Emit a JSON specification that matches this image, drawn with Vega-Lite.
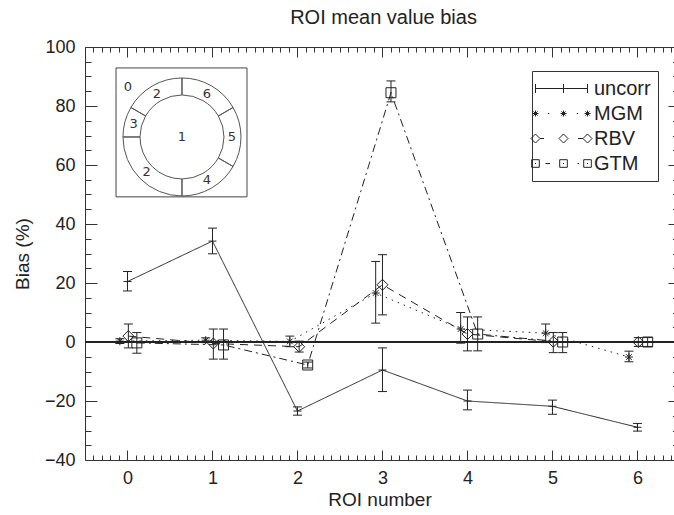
{
  "$schema": "https://vega.github.io/schema/vega-lite/v6.json",
  "width": 589,
  "height": 413,
  "autosize": {"type": "none"},
  "padding": {"left": 85, "top": 47, "right": 0, "bottom": 55},
  "background": "white",
  "title": {"text": "ROI mean value bias", "font": "Liberation Sans", "fontSize": 20, "fontWeight": "normal", "color": "#222", "anchor": "middle", "baseline": "alphabetic", "offset": 20, "dx": 4, "dy": 26},
  "data": {"values": [
    {"series": "uncorr", "roi": 0, "x": 0, "bias": 20.5, "lo": 17.3, "hi": 23.9},
    {"series": "uncorr", "roi": 1, "x": 1, "bias": 34.2, "lo": 29.9, "hi": 38.6},
    {"series": "uncorr", "roi": 2, "x": 2, "bias": -23.4, "lo": -24.8, "hi": -22.0},
    {"series": "uncorr", "roi": 3, "x": 3, "bias": -9.5, "lo": -16.8, "hi": -2.0},
    {"series": "uncorr", "roi": 4, "x": 4, "bias": -20.0, "lo": -23.0, "hi": -16.3},
    {"series": "uncorr", "roi": 5, "x": 5, "bias": -21.8, "lo": -24.5, "hi": -19.7},
    {"series": "uncorr", "roi": 6, "x": 6, "bias": -28.9, "lo": -30.2, "hi": -27.6},
    {"series": "MGM", "roi": 0, "x": -0.09, "bias": 0.3, "lo": -0.5, "hi": 1.1},
    {"series": "MGM", "roi": 1, "x": 0.92, "bias": 0.6, "lo": -0.2, "hi": 1.4},
    {"series": "MGM", "roi": 2, "x": 1.91, "bias": 0.2, "lo": -1.6, "hi": 2.0},
    {"series": "MGM", "roi": 3, "x": 2.92, "bias": 16.6, "lo": 6.4, "hi": 27.3},
    {"series": "MGM", "roi": 4, "x": 3.92, "bias": 4.4, "lo": -0.4, "hi": 10.0},
    {"series": "MGM", "roi": 5, "x": 4.92, "bias": 3.0, "lo": -0.2, "hi": 6.1},
    {"series": "MGM", "roi": 6, "x": 5.9, "bias": -5.1, "lo": -6.7, "hi": -3.1},
    {"series": "RBV", "roi": 0, "x": 0.01, "bias": 2.0, "lo": -2.0, "hi": 6.1},
    {"series": "RBV", "roi": 1, "x": 1.01, "bias": -0.5, "lo": -5.8, "hi": 4.4},
    {"series": "RBV", "roi": 2, "x": 2.02, "bias": -1.6, "lo": -3.4, "hi": 0.3},
    {"series": "RBV", "roi": 3, "x": 3.0, "bias": 19.4, "lo": 9.2, "hi": 29.6},
    {"series": "RBV", "roi": 4, "x": 4.0, "bias": 2.7, "lo": -3.0, "hi": 8.5},
    {"series": "RBV", "roi": 5, "x": 5.01, "bias": 0.1, "lo": -3.6, "hi": 3.2},
    {"series": "RBV", "roi": 6, "x": 6.01, "bias": 0.0, "lo": -1.5, "hi": 1.5},
    {"series": "GTM", "roi": 0, "x": 0.11, "bias": -0.3, "lo": -3.8, "hi": 3.2},
    {"series": "GTM", "roi": 1, "x": 1.13, "bias": -1.0, "lo": -5.8, "hi": 4.4},
    {"series": "GTM", "roi": 2, "x": 2.12, "bias": -7.8, "lo": -8.8, "hi": -6.8},
    {"series": "GTM", "roi": 3, "x": 3.1, "bias": 84.5, "lo": 81.4, "hi": 88.5},
    {"series": "GTM", "roi": 4, "x": 4.12, "bias": 2.7, "lo": -3.0, "hi": 8.5},
    {"series": "GTM", "roi": 5, "x": 5.12, "bias": 0.0, "lo": -3.6, "hi": 3.2},
    {"series": "GTM", "roi": 6, "x": 6.12, "bias": 0.0, "lo": -1.5, "hi": 1.5}
  ]},
  "layer": [
    {
      "mark": {"type": "rule", "color": "#222", "strokeWidth": 1.2},
      "encoding": {
        "y": {"datum": 0, "type": "quantitative", "scale": {"domain": [-40, 100], "nice": false, "zero": false}, "axis": null}
      }
    },
    {
      "data": {"values": [{}]},
      "mark": {"type": "rect", "fill": "white", "stroke": "#444", "strokeWidth": 1},
      "encoding": {
        "x": {"datum": -0.135, "type": "quantitative", "scale": {"domain": [-0.5, 6.43], "nice": false, "zero": false}, "axis": null},
        "x2": {"datum": 1.406},
        "y": {"datum": 92.9, "type": "quantitative", "scale": {"domain": [-40, 100], "nice": false, "zero": false}, "axis": null},
        "y2": {"datum": 49.2}
      }
    },
    {
      "data": {"values": [
        {"seg": "6", "a0": 0, "a1": 60, "am": 30},
        {"seg": "5", "a0": 60, "a1": 120, "am": 90},
        {"seg": "4", "a0": 120, "a1": 180, "am": 150},
        {"seg": "2", "a0": 180, "a1": 270, "am": 225},
        {"seg": "3", "a0": 270, "a1": 300, "am": 285},
        {"seg": "2", "a0": 300, "a1": 360, "am": 330}
      ]},
      "layer": [
        {
          "mark": {"type": "arc", "radius": 59, "radius2": 42, "fill": "white", "fillOpacity": 0, "stroke": "#555", "strokeWidth": 1},
          "encoding": {
            "x": {"datum": 0.641, "type": "quantitative", "scale": {"domain": [-0.5, 6.43], "nice": false, "zero": false}, "axis": null},
            "y": {"datum": 69.5, "type": "quantitative", "scale": {"domain": [-40, 100], "nice": false, "zero": false}, "axis": null},
            "theta": {"field": "a0", "type": "quantitative", "stack": null, "scale": {"domain": [0, 360], "range": [0, 6.283185307]}},
            "theta2": {"field": "a1"}
          }
        },
        {
          "mark": {"type": "text", "radius": 50, "font": "DejaVu Sans", "fontSize": 13, "color": "#333", "align": "center", "baseline": "middle"},
          "encoding": {
            "x": {"datum": 0.641, "type": "quantitative", "scale": {"domain": [-0.5, 6.43], "nice": false, "zero": false}, "axis": null},
            "y": {"datum": 69.5, "type": "quantitative", "scale": {"domain": [-40, 100], "nice": false, "zero": false}, "axis": null},
            "theta": {"field": "am", "type": "quantitative", "stack": null, "scale": {"domain": [0, 360], "range": [0, 6.283185307]}},
            "text": {"field": "seg"}
          }
        }
      ]
    },
    {
      "data": {"values": [{"t": "1"}]},
      "mark": {"type": "text", "font": "DejaVu Sans", "fontSize": 13, "color": "#333", "align": "center", "baseline": "middle"},
      "encoding": {
        "x": {"datum": 0.641, "type": "quantitative", "scale": {"domain": [-0.5, 6.43], "nice": false, "zero": false}, "axis": null},
        "y": {"datum": 69.5, "type": "quantitative", "scale": {"domain": [-40, 100], "nice": false, "zero": false}, "axis": null},
        "text": {"field": "t"}
      }
    },
    {
      "data": {"values": [{"t": "0"}]},
      "mark": {"type": "text", "font": "DejaVu Sans", "fontSize": 13, "color": "#333", "align": "center", "baseline": "middle"},
      "encoding": {
        "x": {"datum": 0.006, "type": "quantitative", "scale": {"domain": [-0.5, 6.43], "nice": false, "zero": false}, "axis": null},
        "y": {"datum": 86.4, "type": "quantitative", "scale": {"domain": [-40, 100], "nice": false, "zero": false}, "axis": null},
        "text": {"field": "t"}
      }
    },
    {
      "mark": {"type": "rule", "color": "#222", "strokeWidth": 1},
      "encoding": {
        "x": {"field": "x", "type": "quantitative", "scale": {"domain": [-0.5, 6.43], "nice": false, "zero": false},
              "axis": {"orient": "bottom", "values": [0, 1, 2, 3, 4, 5, 6], "format": "d", "ticks": false, "labelPadding": 9, "title": "ROI number", "titlePadding": 3, "domain": true}},
        "y": {"field": "lo", "type": "quantitative", "scale": {"domain": [-40, 100], "nice": false, "zero": false},
              "axis": {"orient": "left", "values": [-40, -20, 0, 20, 40, 60, 80, 100], "ticks": false, "labelPadding": 10, "title": "Bias (%)", "titlePadding": 12, "domain": true}},
        "y2": {"field": "hi"}
      }
    },
    {
      "mark": {"type": "tick", "orient": "horizontal", "color": "#222", "size": 9, "thickness": 1, "opacity": 1},
      "encoding": {
        "x": {"field": "x", "type": "quantitative", "scale": {"domain": [-0.5, 6.43], "nice": false, "zero": false},
              "axis": {"orient": "bottom", "values": [0, 1, 2, 3, 4, 5, 6], "labels": false, "tickSize": -10, "domain": false, "title": null}},
        "y": {"field": "lo", "type": "quantitative", "scale": {"domain": [-40, 100], "nice": false, "zero": false},
              "axis": {"orient": "left", "values": [-40, -20, 0, 20, 40, 60, 80, 100], "labels": false, "tickSize": -12, "domain": false, "title": null}}
      }
    },
    {
      "mark": {"type": "tick", "orient": "horizontal", "color": "#222", "size": 9, "thickness": 1, "opacity": 1},
      "encoding": {
        "x": {"field": "x", "type": "quantitative", "scale": {"domain": [-0.5, 6.43], "nice": false, "zero": false},
              "axis": {"orient": "bottom", "values": [-0.4, -0.3, -0.2, -0.1, 0.1, 0.2, 0.3, 0.4, 0.5, 0.6, 0.7, 0.8, 0.9, 1.1, 1.2, 1.3, 1.4, 1.5, 1.6, 1.7, 1.8, 1.9, 2.1, 2.2, 2.3, 2.4, 2.5, 2.6, 2.7, 2.8, 2.9, 3.1, 3.2, 3.3, 3.4, 3.5, 3.6, 3.7, 3.8, 3.9, 4.1, 4.2, 4.3, 4.4, 4.5, 4.6, 4.7, 4.8, 4.9, 5.1, 5.2, 5.3, 5.4, 5.5, 5.6, 5.7, 5.8, 5.9, 6.1, 6.2, 6.3, 6.4], "labels": false, "tickSize": -5, "domain": false, "title": null}},
        "y": {"field": "hi", "type": "quantitative", "scale": {"domain": [-40, 100], "nice": false, "zero": false},
              "axis": {"orient": "left", "values": [-35, -30, -25, -15, -10, -5, 5, 10, 15, 25, 30, 35, 45, 50, 55, 65, 70, 75, 85, 90, 95], "labels": false, "tickSize": -6, "domain": false, "title": null}}
      }
    },
    {
      "mark": {"type": "line", "color": "#222", "strokeWidth": 1},
      "encoding": {
        "x": {"field": "x", "type": "quantitative", "scale": {"domain": [-0.5, 6.43], "nice": false, "zero": false},
              "axis": {"orient": "top", "values": [0, 1, 2, 3, 4, 5, 6], "labels": false, "tickSize": -10, "domain": true, "title": null}},
        "y": {"field": "bias", "type": "quantitative", "scale": {"domain": [-40, 100], "nice": false, "zero": false},
              "axis": {"orient": "right", "values": [-40, -20, 0, 20, 40, 60, 80, 100], "labels": false, "tickSize": -6, "domain": false, "title": null}},
        "strokeDash": {"field": "series", "type": "nominal", "scale": {"domain": ["uncorr", "MGM", "RBV", "GTM"], "range": [[1, 0], [1.5, 5], [8, 6], [8, 4, 2, 4]]}, "legend": null},
        "order": {"field": "x", "type": "quantitative"}
      }
    },
    {
      "mark": {"type": "point", "filled": false, "color": "#222", "strokeWidth": 1, "opacity": 1, "size": 100},
      "encoding": {
        "x": {"field": "x", "type": "quantitative", "scale": {"domain": [-0.5, 6.43], "nice": false, "zero": false},
              "axis": {"orient": "top", "values": [-0.4, -0.3, -0.2, -0.1, 0.1, 0.2, 0.3, 0.4, 0.5, 0.6, 0.7, 0.8, 0.9, 1.1, 1.2, 1.3, 1.4, 1.5, 1.6, 1.7, 1.8, 1.9, 2.1, 2.2, 2.3, 2.4, 2.5, 2.6, 2.7, 2.8, 2.9, 3.1, 3.2, 3.3, 3.4, 3.5, 3.6, 3.7, 3.8, 3.9, 4.1, 4.2, 4.3, 4.4, 4.5, 4.6, 4.7, 4.8, 4.9, 5.1, 5.2, 5.3, 5.4, 5.5, 5.6, 5.7, 5.8, 5.9, 6.1, 6.2, 6.3, 6.4], "labels": false, "tickSize": -5, "domain": false, "title": null}},
        "y": {"field": "bias", "type": "quantitative", "scale": {"domain": [-40, 100], "nice": false, "zero": false},
              "axis": {"orient": "right", "values": [-35, -30, -25, -15, -10, -5, 5, 10, 15, 25, 30, 35, 45, 50, 55, 65, 70, 75, 85, 90, 95], "labels": false, "tickSize": -1.5, "domain": false, "title": null}},
        "shape": {"field": "series", "type": "nominal", "scale": {"domain": ["uncorr", "MGM", "RBV", "GTM"], "range": ["M-0.8,0H0.8M0,-0.8V0.8", "M-0.8,0H0.8M0,-0.8V0.8M-0.57,-0.57L0.57,0.57M-0.57,0.57L0.57,-0.57", "M-1.1,0L0,-1.1L1.1,0L0,1.1Z", "M-1,-1H1V1H-1ZM-0.15,0H0.15"]}, "legend": null}
      }
    },
    {
      "transform": [{"filter": "datum.series === 'none'"}],
      "mark": {"type": "point", "filled": false, "color": "#222", "strokeWidth": 1, "opacity": 1},
      "encoding": {
        "shape": {"field": "series", "type": "nominal",
          "scale": {"domain": ["uncorr", "MGM", "RBV", "GTM"], "range": [
            "M-1.4,0H3.8M-1.4,-0.45V0.45M1.4,-0.45V0.45M3.8,-0.45V0.45",
            "M-1.7,0H-1.1M-1.4,-0.3V0.3M-1.61,-0.21L-1.19,0.21M-1.61,0.21L-1.19,-0.21M1.1,0H1.7M1.4,-0.3V0.3M1.19,-0.21L1.61,0.21M1.19,0.21L1.61,-0.21M3.5,0H4.1M3.8,-0.3V0.3M3.59,-0.21L4.01,0.21M3.59,0.21L4.01,-0.21M-0.17,0H-0.03M2.73,0H2.87",
            "M-1.85,0L-1.4,-0.45L-0.95,0L-1.4,0.45ZM0.95,0L1.4,-0.45L1.85,0L1.4,0.45ZM3.35,0L3.8,-0.45L4.25,0L3.8,0.45ZM-0.95,0H-0.55M2.85,0H3.35",
            "M-1.78,-0.38H-1.02V0.38H-1.78ZM-1.45,0H-1.35M1.02,-0.38H1.78V0.38H1.02ZM1.35,0H1.45M3.42,-0.38H4.18V0.38H3.42ZM3.75,0H3.85M-0.4,0H0.05M2.8,0H2.95"
          ]},
          "legend": {"orient": "none", "legendX": 447, "legendY": 24, "title": null, "symbolSize": 400, "symbolStrokeColor": "#222", "symbolFillColor": "transparent", "symbolStrokeWidth": 1, "labelFont": "Liberation Sans", "labelFontSize": 20, "labelColor": "#222", "labelOffset": 34, "rowPadding": 4, "padding": 7, "strokeColor": "#333", "fillColor": "white"}
        }
      }
    }
  ],
  "resolve": {"scale": {"shape": "independent"}, "axis": {"x": "independent", "y": "independent"}},
  "config": {
    "view": {"stroke": null},
    "axis": {"labelFont": "Liberation Sans", "titleFont": "Liberation Sans", "labelFontSize": 18, "titleFontSize": 19, "titleFontWeight": "normal", "labelColor": "#222", "titleColor": "#222", "tickColor": "#333", "domainColor": "#333", "grid": false}
  }
}
